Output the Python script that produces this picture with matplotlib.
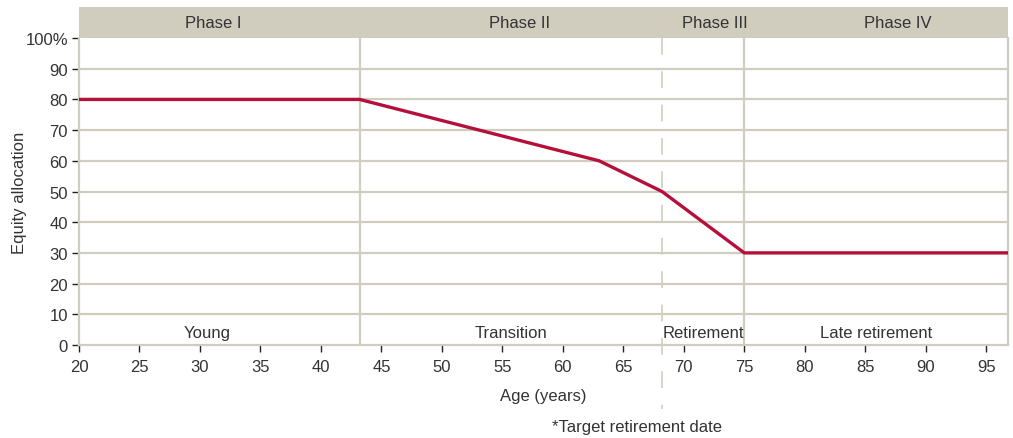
import matplotlib.pyplot as plt
from matplotlib.patches import Rectangle

# glide path data
ages = [20, 43.2, 63, 68.2, 75, 96.8]
equity = [80, 80, 60, 50, 30, 30]

phase_names = ["Phase I", "Phase II", "Phase III", "Phase IV"]
phase_label_x = [31.1, 56.4, 72.6, 87.7]
stage_names = ["Young", "Transition", "Retirement", "Late retirement"]
stage_label_x = [30.6, 55.7, 71.6, 85.9]
solid_bounds = [43.2, 75]
target_date = 68.2

x_ticks = list(range(20, 100, 5))
y_ticks = list(range(0, 101, 10))
y_tick_labels = [str(v) for v in y_ticks[:-1]] + ["100%"]

beige = "#d0ccbe"
red = "#b5103c"
txt = "#333333"

plt.rcParams["font.family"] = ["Liberation Sans", "DejaVu Sans"]

fig = plt.figure(figsize=(10.13, 4.39), dpi=100)
ax = fig.add_axes([0.078, 0.212, 0.917, 0.699])

ax.set_xlim(20, 96.8)
ax.set_ylim(0, 100)

for y in y_ticks[1:-1]:
    ax.axhline(y, color=beige, lw=1.6, zorder=1)
for x in solid_bounds:
    ax.axvline(x, color=beige, lw=1.6, zorder=1)
ax.plot([target_date, target_date], [100, -21], color=beige, lw=1.2,
        dashes=(10, 10), clip_on=False, zorder=1)

ax.plot(ages, equity, color=red, lw=2.4, zorder=3, solid_joinstyle="miter")

# header band
ax.add_patch(Rectangle((0, 1), 1, 0.101, transform=ax.transAxes,
                       facecolor=beige, edgecolor="none", clip_on=False))
for name, x in zip(phase_names, phase_label_x):
    ax.text(x, 1.052, name, transform=ax.get_xaxis_transform(),
            ha="center", va="center", fontsize=12, color=txt)
for name, x in zip(stage_names, stage_label_x):
    ax.text(x, 4, name, ha="center", va="center", fontsize=12,
            color=txt, zorder=4)

for s in ["left", "bottom", "right"]:
    ax.spines[s].set_color(beige)
    ax.spines[s].set_linewidth(1.6)
ax.spines["top"].set_visible(False)

ax.set_xticks(x_ticks)
ax.set_yticks(y_ticks)
ax.set_yticklabels(y_tick_labels)
ax.tick_params(axis="both", colors="#222222", labelcolor=txt,
               labelsize=12, length=5, width=1, direction="out")
ax.tick_params(axis="x", pad=5)
ax.tick_params(axis="y", pad=3)

ax.set_xlabel("Age (years)", fontsize=12, color=txt, labelpad=10)
ax.set_ylabel("Equity allocation", fontsize=12, color=txt, va="center")
ax.yaxis.set_label_coords(-0.064, 0.5)

fig.text(0.629, 0.027, "*Target retirement date", ha="center", va="center",
         fontsize=12, color=txt)

plt.savefig("out.png", dpi=100)
